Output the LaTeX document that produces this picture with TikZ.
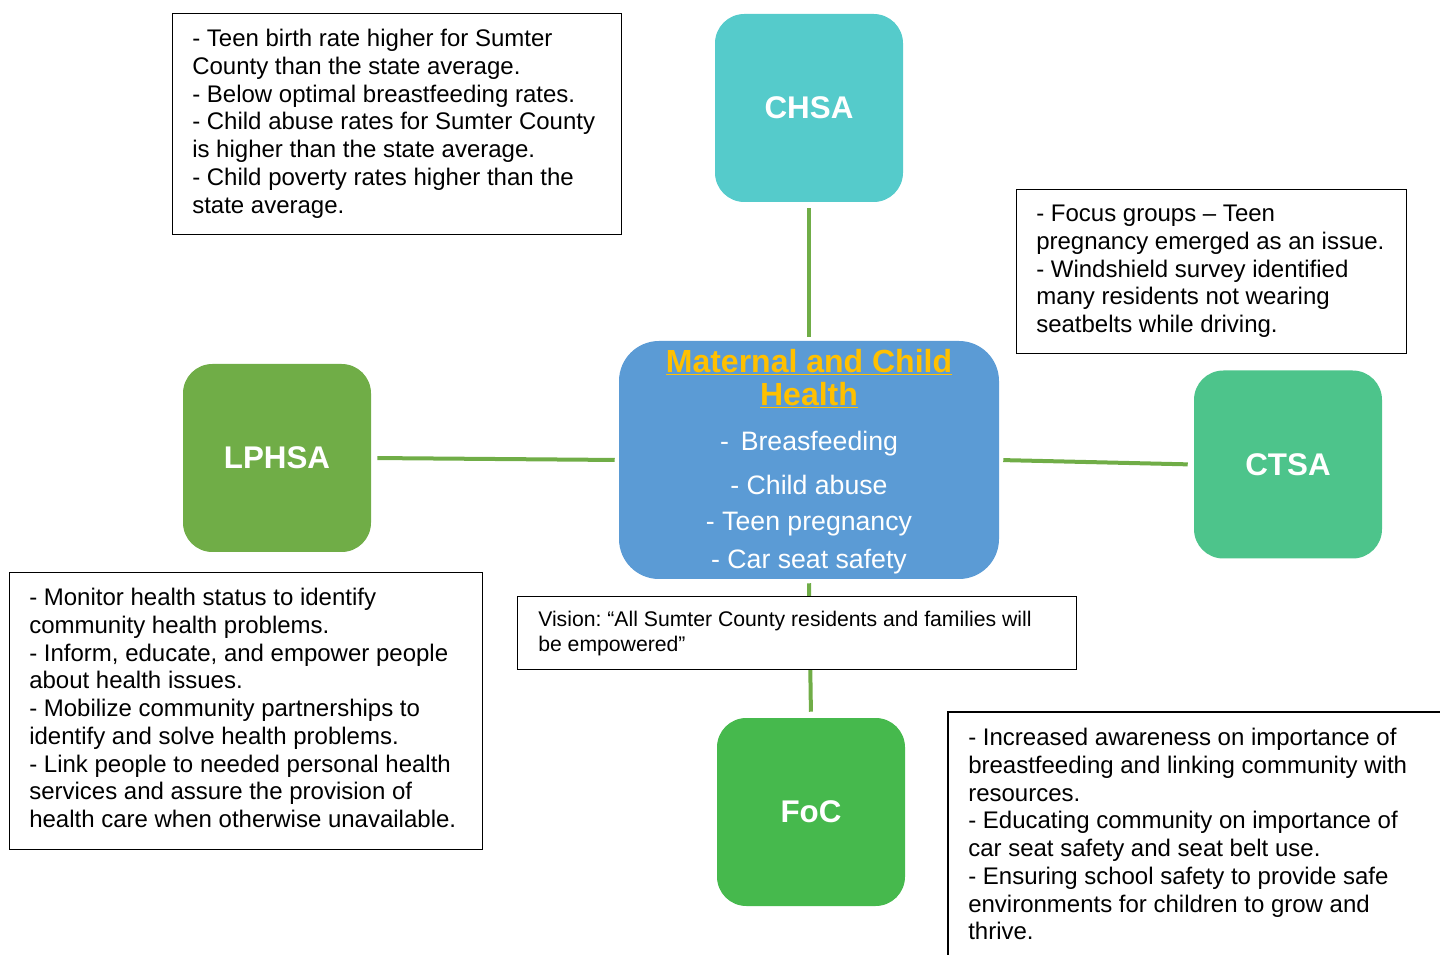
\documentclass[tikz,border=0pt]{standalone}
\usepackage{fontspec}
\setmainfont{Liberation Sans}
\usetikzlibrary{calc}
\frenchspacing
\definecolor{cteal}{HTML}{55CBCB}
\definecolor{cgreenL}{HTML}{70AD47}
\definecolor{cgreenT}{HTML}{4DC48B}
\definecolor{cgreenF}{HTML}{46B94D}
\definecolor{cblue}{HTML}{5B9BD5}
\definecolor{cgold}{HTML}{FFC000}
\definecolor{cline}{HTML}{70AD47}
\tikzset{
  x=0.75pt, y=-0.75pt,
  hub/.style={rounded corners=22pt, minimum width=141pt, minimum height=141pt, inner sep=0pt,
     text=white, font=\fontsize{23.5}{27}\selectfont\bfseries},
  txtbox/.style={draw=black, line width=0.9pt, fill=white, inner sep=0pt},
  bodytext/.style={anchor=north west, align=left, inner sep=0pt, font=\fontsize{18}{20.8}\selectfont\frenchspacing},
  itemtext/.style={text=white, font=\fontsize{20}{20}\selectfont, inner sep=0pt},
  link/.style={draw=cline, line width=3pt}
}
\begin{document}
\begin{tikzpicture}
\useasboundingbox (0,0) rectangle (1440,955);
% central node
\node[fill=cblue, rounded corners=30pt, minimum width=285pt, minimum height=178.5pt, inner sep=0pt] (mch) at (809,460) {};
\node[text=cgold, font=\fontsize{24}{24.75}\selectfont\bfseries, align=center, inner sep=0pt, anchor=north] (title) at (809,349)
  {\underline{Maternal and Child}\\\underline{Health}};
\node[itemtext] (i1) at (809,444) {-\, Breasfeeding};
\node[itemtext] (i2) at (809,485) {- Child abuse};
\node[itemtext] (i3) at (809,524) {- Teen pregnancy};
\node[itemtext] (i4) at (809,562) {- Car seat safety};
% satellites
\node[hub, fill=cteal] (chsa) at (809,108) {CHSA};
\node[hub, fill=cgreenL] (lphsa) at (277,458) {LPHSA};
\node[hub, fill=cgreenT] (ctsa) at (1288,464.5) {CTSA};
\node[hub, fill=cgreenF] (foc) at (811,812) {FoC};
% connectors
\draw[link, shorten <=4.5pt, shorten >=3pt] (chsa.south) -- (mch.north);
\draw[link, shorten <=4.5pt, shorten >=3pt] (lphsa.east) -- (mch.west);
\draw[link, shorten <=3pt, shorten >=4.5pt] (mch.east) -- (ctsa.west);
\draw[link, shorten <=3pt, shorten >=4.5pt] (mch.south) -- (foc.north);
% text boxes
\node[txtbox, anchor=north west, minimum width=336.75pt, minimum height=165.75pt] (tl) at (172,13) {};
\node[bodytext] (tltext) at ($(tl.north west)+(20,16)$) {- Teen birth rate higher for Sumter\\County than the state average.\\- Below optimal breastfeeding rates.\\- Child abuse rates for Sumter County\\is higher than the state average.\\- Child poverty rates higher than the\\state average.};
\node[txtbox, anchor=north west, minimum width=292.5pt, minimum height=123pt] (tr) at (1016,189) {};
\node[bodytext] (trtext) at ($(tr.north west)+(20,16)$) {- Focus groups -- Teen\\pregnancy emerged as an issue.\\- Windshield survey identified\\many residents not wearing\\seatbelts while driving.};
\node[txtbox, anchor=north west, minimum width=354.75pt, minimum height=207.75pt] (lb) at (9,572) {};
\node[bodytext] (lbtext) at ($(lb.north west)+(20,16)$) {- Monitor health status to identify\\community health problems.\\- Inform, educate, and empower people\\about health issues.\\- Mobilize community partnerships to\\identify and solve health problems.\\- Link people to needed personal health\\services and assure the provision of\\health care when otherwise unavailable.};
\node[txtbox, anchor=north west, minimum width=419.25pt, minimum height=54.75pt] (vis) at (517,596) {};
\node[bodytext, font=\fontsize{15.9}{18.75}\selectfont\frenchspacing] (vistext) at ($(vis.north west)+(21,15)$) {Vision: “All Sumter County residents and families will\\be empowered”};
\coordinate (brA) at (948,960);
\coordinate (brB) at (948,712);
\coordinate (brC) at (1445,712);
\draw[black, line width=0.9pt] (brA) -- (brB) -- (brC);
\node[bodytext] (brtext) at ($(brB)+(20,16)$) {- Increased awareness on importance of\\breastfeeding and linking community with\\resources.\\- Educating community on importance of\\car seat safety and seat belt use.\\- Ensuring school safety to provide safe\\environments for children to grow and\\thrive.};
\end{tikzpicture}
\end{document}
